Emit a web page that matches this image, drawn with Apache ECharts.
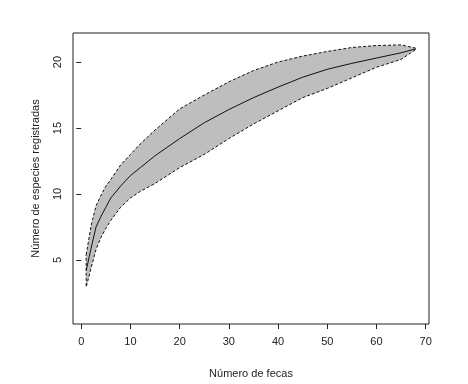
<!DOCTYPE html>
<html>
<head>
<meta charset="utf-8">
<script src="https://cdn.jsdelivr.net/npm/echarts@6/dist/echarts.min.js"></script>
<style>
  html, body { margin: 0; padding: 0; background: #fff; }
  #chart { width: 468px; height: 384px; }
</style>
</head>
<body>
<div id="chart"></div>
<script>
// number of samples (fecas)
const samples = [1, 2, 3, 4, 5, 6, 8, 10, 12, 15, 20, 25, 30, 35, 40, 45, 50, 55, 60, 65, 68];
// accumulated species: mean and confidence band
const meanSpecies = [4.2, 5.9, 7.5, 8.3, 9.0, 9.7, 10.6, 11.4, 12.0, 12.9, 14.2, 15.4, 16.4, 17.3, 18.1, 18.85, 19.45, 19.9, 20.3, 20.7, 21.0];
const upperSpecies = [5.4, 7.6, 9.1, 9.9, 10.6, 11.1, 12.2, 13.0, 13.8, 14.85, 16.45, 17.5, 18.5, 19.35, 20.0, 20.45, 20.8, 21.1, 21.25, 21.3, 21.05];
const lowerSpecies = [2.95, 4.4, 5.8, 6.7, 7.4, 8.0, 9.0, 9.7, 10.2, 10.8, 12.0, 13.0, 14.2, 15.3, 16.3, 17.3, 18.0, 18.8, 19.6, 20.2, 20.95];
const xTicks = [0, 10, 20, 30, 40, 50, 60, 70];
const yTicks = [5, 10, 15, 20];

const font = "Liberation Sans, Arial, sans-serif";
const pair = (ys) => samples.map((x, i) => [x, ys[i]]);

const chart = echarts.init(document.getElementById("chart"));

// band polygon: upper limit forward, lower limit back
const renderBand = (params, api) => {
  const points = [];
  samples.forEach((x, i) => points.push(api.coord([x, upperSpecies[i]])));
  for (let i = samples.length - 1; i >= 0; i--) {
    points.push(api.coord([samples[i], lowerSpecies[i]]));
  }
  return {
    type: "polygon",
    shape: { points },
    style: { fill: "#bebebe", stroke: "#111", lineWidth: 1, lineDash: [3, 2] },
  };
};

const option = {
  animation: false,
  backgroundColor: "#ffffff",
  grid: {
    left: 73, right: 39, top: 33, bottom: 59,
    show: true, borderColor: "#222", borderWidth: 1, backgroundColor: "transparent",
  },
  xAxis: {
    type: "value",
    min: -1.68, max: 70.68,
    name: "Número de fecas",
    nameLocation: "middle",
    nameGap: 44,
    nameTextStyle: { color: "#222", fontSize: 11, fontFamily: font },
    axisLine: { show: false },
    axisTick: { show: true, inside: false, length: 5, customValues: xTicks, lineStyle: { color: "#222" } },
    axisLabel: { customValues: xTicks, color: "#222", fontSize: 11, fontFamily: font, margin: 12 },
    splitLine: { show: false },
  },
  yAxis: {
    type: "value",
    min: 0.15, max: 22.2,
    name: "Número de especies registradas",
    nameLocation: "middle",
    nameGap: 32,
    nameRotate: 90,
    nameTextStyle: { color: "#222", fontSize: 11, fontFamily: font },
    axisLine: { show: false },
    axisTick: { show: true, inside: false, length: 5, customValues: yTicks, lineStyle: { color: "#222" } },
    axisLabel: { customValues: yTicks, rotate: 90, color: "#222", fontSize: 11, fontFamily: font, margin: 10 },
    splitLine: { show: false },
  },
  series: [
    {
      type: "custom", data: [[samples[0], meanSpecies[0]]],
      renderItem: renderBand, silent: true, z: 1,
    },
    {
      type: "line", data: pair(meanSpecies), symbol: "none", z: 2,
      lineStyle: { color: "#111", width: 1 },
    },
  ],
};

chart.setOption(option);
</script>
</body>
</html>
